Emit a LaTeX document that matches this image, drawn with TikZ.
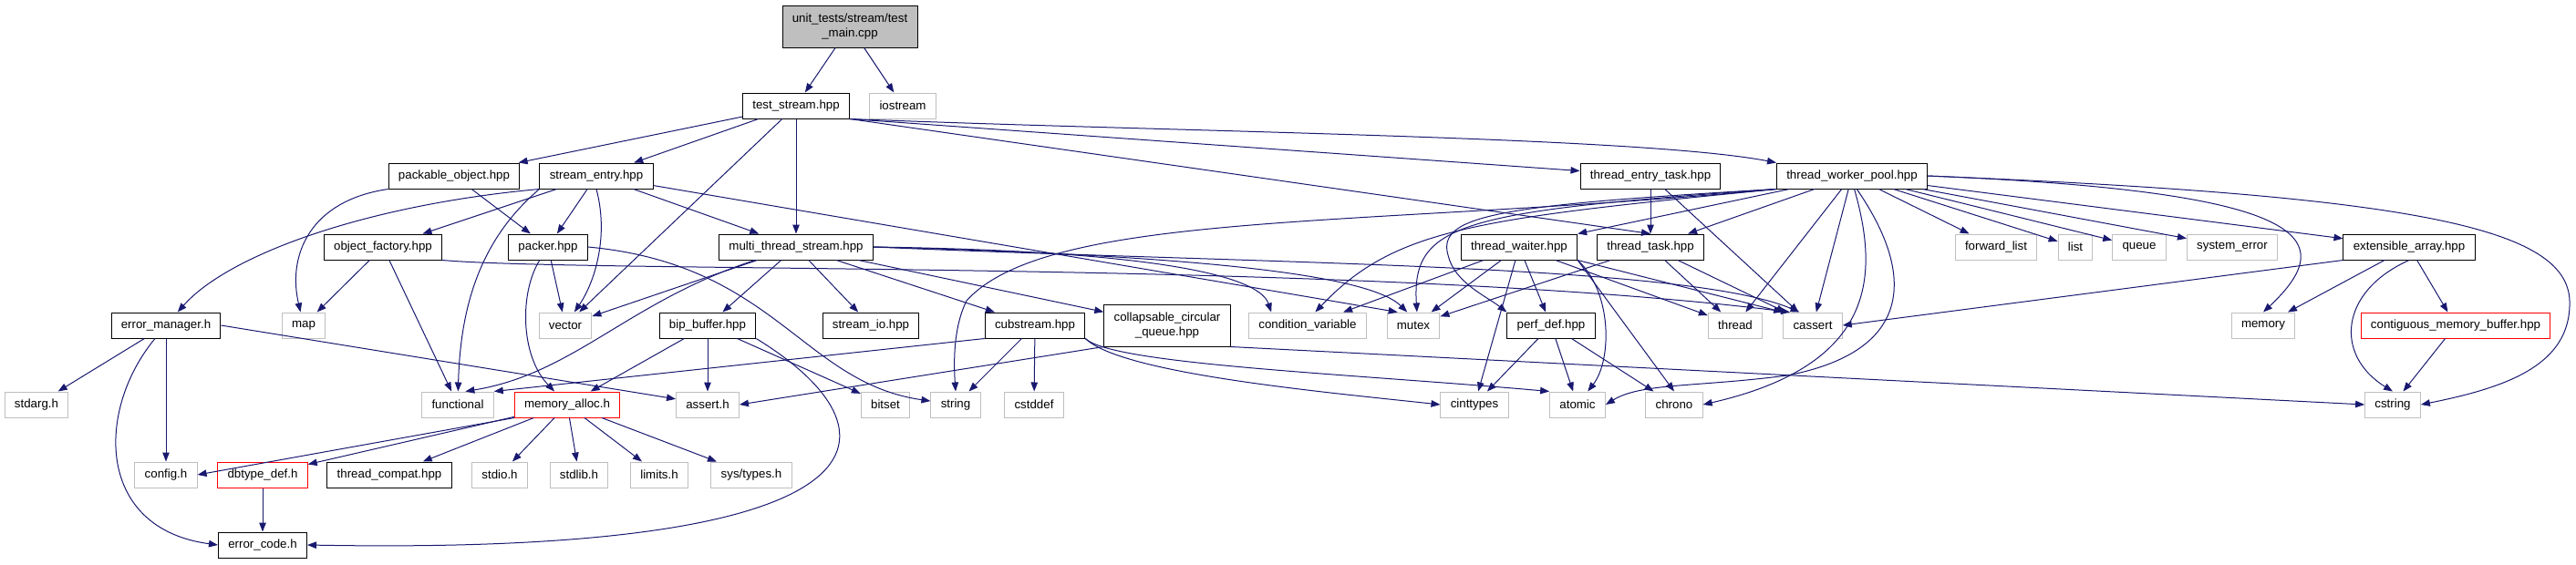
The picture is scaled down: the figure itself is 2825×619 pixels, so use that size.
\documentclass[tikz,border=0pt]{standalone}
\usepackage{fontspec}
\setmainfont{Liberation Sans}
\usepackage{tikz}
\usetikzlibrary{arrows.meta}
\definecolor{edgeblue}{RGB}{25,25,112}
\definecolor{sysgray}{RGB}{191,191,191}

\begin{document}
\begin{tikzpicture}[x=1pt, y=-1pt, font=\fontsize{13.3}{16.7}\selectfont]
  \useasboundingbox (0,0) rectangle (2825,619);
  \tikzset{hdr/.style={draw=black, line width=1pt, inner xsep=10.8pt, inner ysep=0pt, minimum height=28pt, align=center},
    sys/.style={hdr, draw=sysgray}, trunc/.style={hdr, draw=red},
    dep/.style={edgeblue, line width=1pt, -{Triangle[length=10pt, width=7.5pt]}}}
  % ---- the file itself and the headers it pulls in (x/y = box centres, px) ----
  \node[hdr, fill=sysgray, minimum height=46pt] (tmain) at (932,29) {unit\_tests/stream/test\\\_main.cpp};
  \node[hdr, minimum height=46pt] (collaps) at (1280,357) {collapsable\_circular\\\_queue.hpp};
  \foreach \n/\x/\y/\s/\t in {
    tstream/873/116/hdr/test\_stream.hpp, iostream/990/116/sys/iostream,
    packable/498/193/hdr/packable\_object.hpp, sentry/654/193/hdr/stream\_entry.hpp,
    tetask/1810/193/hdr/thread\_entry\_task.hpp, twp/2031/193/hdr/thread\_worker\_pool.hpp,
    ofactory/420/271/hdr/object\_factory.hpp, packer/601/271/hdr/packer.hpp,
    mts/873/271/hdr/multi\_thread\_stream.hpp, tw/1666/271/hdr/thread\_waiter.hpp,
    ttask/1810/271/hdr/thread\_task.hpp, fwdlist/2189/271/sys/forward\_list,
    list/2276/271/sys/list, queue/2346/271/sys/queue, syserr/2448/271/sys/system\_error,
    extarr/2642/271/hdr/extensible\_array.hpp,
    errmgr/182/357/hdr/error\_manager.h, map/333/357/sys/map, vector/620/357/sys/vector,
    bip/776/357/hdr/bip\_buffer.hpp, streamio/955/357/hdr/stream\_io.hpp,
    cubstream/1135/357/hdr/cubstream.hpp, condvar/1434/357/sys/condition\_variable,
    mutex/1550/357/sys/mutex, perfdef/1701/357/hdr/perf\_def.hpp, thread/1903/357/sys/thread,
    cassert/1988/357/sys/cassert, memory/2482/357/sys/memory,
    contig/2693/357/trunc/contiguous\_memory\_buffer.hpp,
    stdarg/40/444/sys/stdarg.h, functional/502/444/sys/functional,
    memalloc/622/444/trunc/memory\_alloc.h, assert/776/444/sys/assert.h,
    bitset/971/444/sys/bitset, string/1048/444/sys/string, cstddef/1134/444/sys/cstddef,
    cinttypes/1617/444/sys/cinttypes, atomic/1730/444/sys/atomic, chrono/1836/444/sys/chrono,
    cstring/2624/444/sys/cstring,
    config/182/521/sys/config.h, dbtype/288/521/trunc/dbtype\_def.h,
    tcompat/427/521/hdr/thread\_compat.hpp, stdio/548/521/sys/stdio.h,
    stdlib/635/521/sys/stdlib.h, limits/723/521/sys/limits.h, systypes/824/521/sys/{sys/types.h},
    errcode/288/598/hdr/error\_code.h} {
    \node[\s] (\n) at (\x,\y) {\t};
  }
  % ---- straight includes ----
  \foreach \a/\b in {tmain/tstream, tmain/iostream,
    tstream/packable, tstream/sentry, tstream/vector, tstream/mts, tstream.south east/tetask, tstream.south east/ttask.north,
    packable/packer, sentry/ofactory, sentry/packer, sentry/mts, sentry/mutex.140,
    ofactory/map, ofactory/functional, packer/vector,
    mts/vector, mts/bip, mts/streamio, mts/cubstream, mts/collaps,
    errmgr/stdarg, errmgr/config, errmgr.east/assert.170,
    memalloc.south west/config.east, memalloc/dbtype, memalloc/tcompat, memalloc/stdio,
    memalloc/stdlib, memalloc/limits, memalloc/systypes, dbtype/errcode,
    bip/memalloc, bip/assert, bip/bitset,
    cubstream.south west/functional.north east, cubstream/string, cubstream/cstddef,
    collaps.south west/assert.east, collaps.south east/cstring.west,
    tetask/ttask, tetask/cassert, ttask/mutex, ttask/thread, ttask/cassert,
    tw/condvar, tw/mutex, tw/perfdef, tw/cinttypes, tw.south east/chrono.north, tw/thread, tw.south east/cassert.north west,
    perfdef/cinttypes, perfdef/atomic, perfdef/chrono,
    twp/tw.north east, twp/ttask, twp/thread, twp/cassert,
    twp/fwdlist, twp/list, twp/queue, twp/syserr, twp/extarr,
    extarr.south west/cassert.east, extarr/memory, extarr/contig, contig/cstring} {
    \draw[dep] (\a) -- (\b);
  }
  % ---- routed includes (around other boxes) ----
  \draw[dep] (tstream.south east) .. controls (1300,145) and (1800,150) .. (twp.north west);
  \draw[dep] (sentry.south west) .. controls (400,225) and (250,280) .. (errmgr);
  \draw[dep] (sentry.south west) .. controls (530,260) and (505,330) .. (functional);
  \draw[dep] (sentry.south) .. controls (668,260) and (652,310) .. (vector);
  \draw[dep] (packable.south west) .. controls (340,220) and (315,280) .. (map);
  \draw[dep] (ofactory.south east) .. controls (650,300) and (1500,285) .. (cassert.150);
  \draw[dep] (packer) .. controls (570,320) and (570,390) .. (memalloc);
  \draw[dep] (packer.east) .. controls (850,290) and (880,420) .. (string);
  \draw[dep] (mts) .. controls (690,330) and (630,410) .. (functional.60);
  \draw[dep] (mts.east) .. controls (1250,275) and (1380,300) .. (condvar.160);
  \draw[dep] (mts.east) .. controls (1300,280) and (1500,300) .. (mutex.115);
  \draw[dep] (mts.east) .. controls (1400,290) and (1850,290) .. (cassert.135);
  \draw[dep] (errmgr) .. controls (105,450) and (105,580) .. (errcode.west);
  \draw[dep] (bip.south east) .. controls (990,470) and (1000,610) .. (errcode.east);
  \draw[dep] (cubstream.south east) .. controls (1220,400) and (1480,410) .. (atomic.north west);
  \draw[dep] (cubstream.south east) .. controls (1230,410) and (1450,430) .. (cinttypes.west);
  \draw[dep] (tw.south east) .. controls (1768,320) and (1768,395) .. (atomic);
  \draw[dep] (twp.south west) .. controls (1620,240) and (1530,250) .. (condvar.60);
  \draw[dep] (twp.south west) .. controls (1600,232) and (1548,245) .. (mutex.75);
  \draw[dep] (twp.south west) .. controls (1650,225) and (1575,235) .. (1588,280) .. controls (1595,310) and (1630,325) .. (perfdef.north west);
  \draw[dep] (twp.south west) .. controls (1500,250) and (1150,230) .. (1060,330) .. controls (1045,360) and (1046,400) .. (string.north);
  \draw[dep] (twp.-70) .. controls (2100,300) and (2100,385) .. (1960,412) .. controls (1860,425) and (1800,420) .. (atomic.east);
  \draw[dep] (twp.-80) .. controls (2060,300) and (2060,400) .. (chrono.east);
  \draw[dep] (twp.east) .. controls (2530,210) and (2570,260) .. (memory.north);
  \draw[dep] (twp.east) .. controls (2650,215) and (2815,250) .. (2818,330) .. controls (2820,400) and (2750,425) .. (cstring.east);
  \draw[dep] (extarr.south) .. controls (2565,320) and (2560,390) .. (cstring.north);
\end{tikzpicture}
\end{document}
